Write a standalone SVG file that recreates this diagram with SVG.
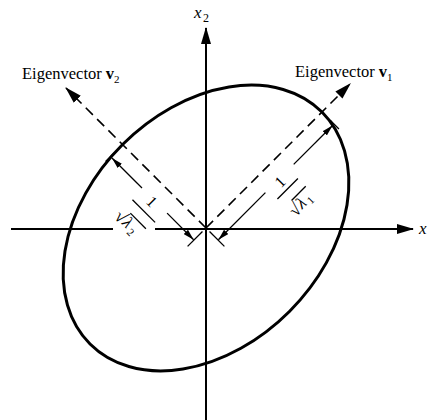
<svg xmlns="http://www.w3.org/2000/svg" width="433" height="420" viewBox="0 0 433 420">
<defs>
<marker id="ah" markerUnits="userSpaceOnUse" markerWidth="17" markerHeight="10" refX="16" refY="5" orient="auto-start-reverse" viewBox="0 0 17 10"><path d="M0,0 L17,5 L0,10 Z" fill="#000" stroke="none"/></marker>
<marker id="as" markerUnits="userSpaceOnUse" markerWidth="11" markerHeight="6" refX="11" refY="3" orient="auto-start-reverse" viewBox="0 0 11 6"><path d="M0,0 L11,3 L0,6 Z" fill="#000" stroke="none"/></marker>
<style>
.ax{stroke:#000;stroke-width:2;fill:none}
.dash{stroke:#000;stroke-width:1.6;fill:none;stroke-dasharray:10 6}
.dim{stroke:#000;stroke-width:1.3;fill:none}
.t{font-family:"Liberation Serif","Times New Roman",serif;fill:#000}
</style>
</defs>
<g id="axes">
<line class="ax" x1="11" y1="229" x2="113" y2="229"/>
<line class="ax" x1="155" y1="229" x2="413" y2="229" marker-end="url(#ah)"/>
<line class="ax" x1="206" y1="420" x2="206" y2="28" marker-end="url(#ah)"/>
<text class="t" x="194" y="18" font-size="17" font-style="italic">x</text>
<text class="t" x="203" y="22" font-size="12">2</text>
<text class="t" x="419" y="234" font-size="17" font-style="italic">x</text>
</g>
<g id="ellipse">
<ellipse cx="206" cy="228" rx="164" ry="118" transform="rotate(-45 206 228)" fill="none" stroke="#000" stroke-width="3"/>
</g>
<g id="connectors">
<g transform="translate(206,228) rotate(-45)">
<line class="dash" x1="0" y1="0" x2="204" y2="0" marker-end="url(#ah)"/>
<line class="dim" x1="0" y1="5" x2="0" y2="26"/>
<line class="dim" x1="164" y1="12" x2="164" y2="24"/>
<line class="dim" x1="67" y1="17" x2="0.5" y2="17" marker-end="url(#as)"/>
<line class="dim" x1="107" y1="17" x2="162" y2="17" marker-end="url(#as)"/>
</g>
<g transform="translate(206,228) rotate(45)">
<line class="dash" x1="0" y1="0" x2="-198" y2="0" marker-end="url(#ah)"/>
<line class="dim" x1="0" y1="5" x2="0" y2="26"/>
<line class="dim" x1="-118" y1="12" x2="-118" y2="24"/>
<line class="dim" x1="-38" y1="17" x2="-0.5" y2="17" marker-end="url(#as)"/>
<line class="dim" x1="-73.5" y1="17" x2="-116" y2="17" marker-end="url(#as)"/>
</g>
</g>
<g id="label-v1">
<text class="t" x="295" y="77" font-size="16.5">Eigenvector <tspan font-weight="bold">v</tspan><tspan font-size="11" dy="4">1</tspan></text>
</g>
<g id="label-v2">
<text class="t" x="22" y="79" font-size="16.5">Eigenvector <tspan font-weight="bold">v</tspan><tspan font-size="11" dy="4">2</tspan></text>
</g>
<g id="frac-1" transform="translate(206,228) rotate(-45)">
<text class="t" x="85" y="25" font-size="16" text-anchor="middle">1</text>
<line class="dim" x1="71" y1="30" x2="100" y2="30"/>
<text class="t" x="71" y="56" font-size="18">√</text>
<line class="dim" x1="80" y1="41" x2="100" y2="41"/>
<text class="t" x="81" y="55" font-size="17" font-style="italic">λ</text>
<text class="t" x="91" y="58" font-size="11">1</text>
</g>
<g id="frac-2" transform="translate(206,228) rotate(45)">
<text class="t" x="-57" y="25" font-size="16" text-anchor="middle">1</text>
<line class="dim" x1="-72" y1="32" x2="-40" y2="32"/>
<text class="t" x="-73" y="58" font-size="18">√</text>
<line class="dim" x1="-64" y1="43" x2="-42" y2="43"/>
<text class="t" x="-63" y="57" font-size="17" font-style="italic">λ</text>
<text class="t" x="-53" y="60" font-size="11">2</text>
</g>
</svg>
